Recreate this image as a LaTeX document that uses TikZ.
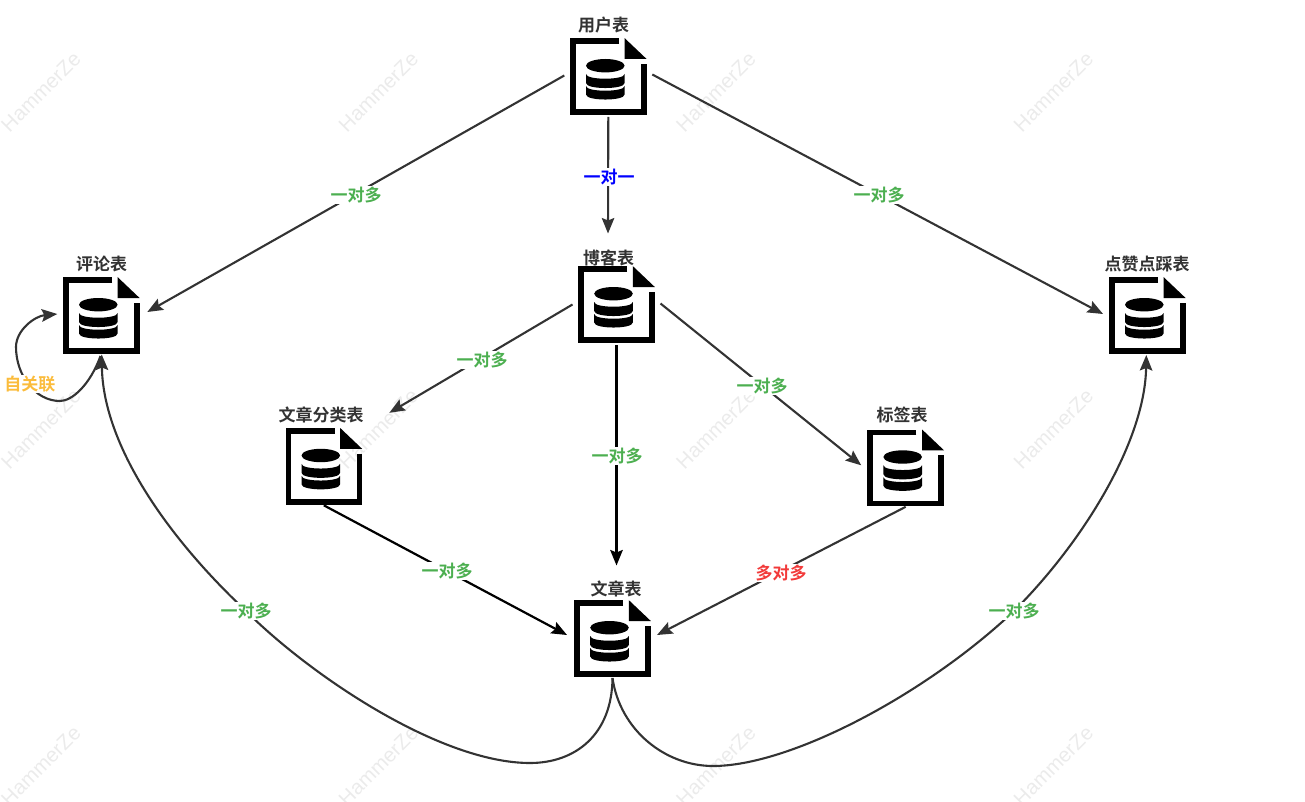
\documentclass[tikz,border=0pt]{standalone}
\usepackage{fontspec}
\setmainfont[BoldFont={Noto Sans CJK SC Bold}]{Noto Sans CJK SC}
\newfontfamily\wmfont{Liberation Sans}
\usetikzlibrary{arrows.meta}
\definecolor{lnc}{HTML}{333333}
\definecolor{grn}{HTML}{4CAF50}
\definecolor{org}{HTML}{FBBC3C}
\definecolor{rd}{HTML}{F23A3A}
\definecolor{wmk}{HTML}{EBEBEB}
\tikzset{
  x=1pt,y=-1pt,
  iconbox/.style={minimum size=88pt,inner sep=0pt,outer sep=0pt},
  tname/.style={font=\fontsize{17pt}{18pt}\selectfont\bfseries,text=lnc,inner sep=0pt},
  elabel/.style={font=\fontsize{17pt}{18pt}\selectfont\bfseries,fill=white,inner sep=1pt},
  conn/.style={draw=lnc,line width=2.1pt,-{Stealth[length=15.5pt,width=12.5pt,inset=2.5pt]}},
  connk/.style={conn,draw=black,line width=2.2pt,-{Stealth[length=15.5pt,width=12.5pt,inset=2.5pt,black]}},
  wm/.style={font=\fontsize{20.5pt}{22pt}\selectfont\wmfont,text=wmk,rotate=45,inner sep=0pt},
  dbicon/.pic={
    \draw[black,line width=5.5pt,miter limit=10] (10.7,-35.5) -- (-35.5,-35.5) -- (-35.5,35.5) -- (35.5,35.5) -- (35.5,-12.5);
    \fill[black] (16.4,-38.3) -- (38.3,-17.5) -- (16.4,-17.5) -- cycle;
    \fill[black] (-3,-10.8) ellipse [x radius=19.3pt,y radius=6.7pt];
    \fill[black] (-22.3,-2.5) .. controls (-22.3,3.8) and (16.3,3.8) .. (16.3,-2.5) -- (16.3,6.5)
       .. controls (16.3,13.2) and (-22.3,13.2) .. (-22.3,6.5) -- cycle;
    \fill[black] (-22.3,9.5) .. controls (-22.3,15.8) and (16.3,15.8) .. (16.3,9.5) -- (16.3,18)
       .. controls (16.3,24.7) and (-22.3,24.7) .. (-22.3,18) -- cycle;
  }
}
\begin{document}
\begin{tikzpicture}
\useasboundingbox (0,0) rectangle (1305,802);
% watermarks
\foreach \i/\wx in {1/41,2/378.5,3/716,4/1053.5}{
  \foreach \j/\wy in {1/92,2/429,3/766}{
    \node[wm] (w\i\j) at (\wx,\wy) {HammerZe};
  }
}
% anchors
\node[iconbox] (user) at (608.3,76.5) {};
\node[iconbox] (comment) at (101.3,315.5) {};
\node[iconbox] (like) at (1147.3,315.5) {};
\node[iconbox] (blog) at (616.5,304.5) {};
\node[iconbox] (cat) at (323.8,466.3) {};
\node[iconbox] (tag) at (905.7,467.8) {};
\node[iconbox] (art) at (612.5,638.5) {};
% connectors
\draw[conn] ([shift={(0,-1)}]user.west) -- ([shift={(2,-3.5)}]comment.east);
\draw[conn] ([shift={(0,-3.5)}]user.south) -- ([shift={(-8.5,-27)}]blog.north);
\draw[conn] ([shift={(0,-2)}]user.east) -- ([shift={(-0.3,-1.5)}]like.west);
\draw[conn] (blog.west) -- ([shift={(65.5,-9.5)}]cat.north);
\draw[connk] ([shift={(0,-3.5)}]blog.south) -- ([shift={(4,-29)}]art.north);
\draw[conn] ([shift={(0,-1)}]blog.east) -- ([shift={(-0.5,-2.5)}]tag.west);
\draw[connk] ([shift={(0,-5)}]cat.south) -- ([shift={(-1.5,-3.5)}]art.west);
\draw[conn] ([shift={(0,-5)}]tag.south) -- ([shift={(0.5,-3.5)}]art.east);
\draw[conn] ([shift={(0,-4.5)}]art.south) .. controls (612,735) and (575,763) .. (530,763)
   .. controls (440,763) and (310,675) .. (246,611)
   .. controls (160,530) and (103,440) .. ([shift={(0.4,-5)}]comment.south);
\draw[conn] ([shift={(0,-4.5)}]art.south) .. controls (620,730) and (665,766) .. (713,766)
   .. controls (790,766) and (925,695) .. (1014,611)
   .. controls (1085,540) and (1145,440) .. ([shift={(-1,-4.5)}]like.south);
\draw[conn] ([shift={(-0.8,-3.5)}]comment.south) .. controls (90,385) and (72,401) .. (60,401)
   .. controls (35,401) and (16,375) .. (16,347)
   .. controls (16,330) and (35,316) .. ([shift={(0,-1.5)}]comment.west);
% icons
\pic at (user) {dbicon};
\pic at (comment) {dbicon};
\pic at (like) {dbicon};
\pic at (blog) {dbicon};
\pic at (cat) {dbicon};
\pic at (tag) {dbicon};
\pic at (art) {dbicon};
% table names
\node[tname] (nuser) at (603.5,25.5) {用户表};
\node[tname] (ncomment) at (101.5,264.5) {评论表};
\node[tname] (nlike) at (1147,264.5) {点赞点踩表};
\node[tname] (nblog) at (608.5,258) {博客表};
\node[tname] (ncat) at (321,414.5) {文章分类表};
\node[tname] (ntag) at (902,414.5) {标签表};
\node[tname] (nart) at (616,589) {文章表};
% edge labels
\node[elabel,text=grn] (l1) at (356,195) {一对多};
\node[elabel,text=blue] (l2) at (609,177) {一对一};
\node[elabel,text=grn] (l3) at (879,195) {一对多};
\node[elabel,text=grn] (l4) at (482,360) {一对多};
\node[elabel,text=grn] (l5) at (617,456) {一对多};
\node[elabel,text=grn] (l6) at (762,386) {一对多};
\node[elabel,text=grn] (l7) at (447,571) {一对多};
\node[elabel,text=rd] (l8) at (781,573) {多对多};
\node[elabel,text=grn] (l9) at (246,611) {一对多};
\node[elabel,text=grn] (l10) at (1014,611) {一对多};
\node[elabel,text=org] (l11) at (30,384) {自关联};
\end{tikzpicture}
\end{document}
